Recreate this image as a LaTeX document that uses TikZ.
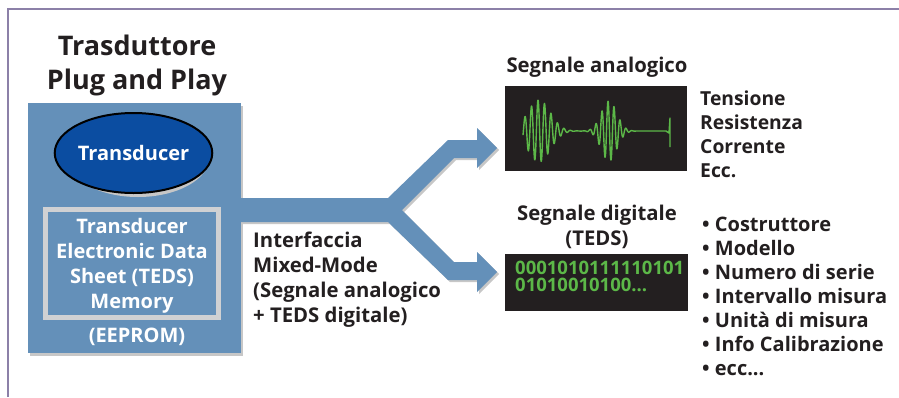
\documentclass[tikz,border=0pt]{standalone}
\usepackage{fontspec}
\setmainfont{Open Sans}
\usetikzlibrary{positioning,shapes.geometric}

\definecolor{framegray}{RGB}{140,128,168}
\definecolor{tedsblue}{RGB}{100,144,185}
\definecolor{coreblue}{RGB}{11,77,161}
\definecolor{memgray}{RGB}{208,209,211}
\definecolor{screenblack}{RGB}{35,31,32}
\definecolor{wavegreen}{RGB}{92,184,72}
\definecolor{inkblack}{RGB}{35,31,32}

\newcommand{\titlefont}{\fontsize{27}{34}\selectfont\bfseries}
\newcommand{\boxfont}{\fontsize{20}{25}\selectfont\bfseries}
\newcommand{\labelfont}{\fontsize{20.3}{25}\selectfont\bfseries}
\newcommand{\quantfont}{\fontsize{19.3}{24}\selectfont\bfseries}
\newcommand{\listfont}{\fontsize{20}{24}\selectfont\bfseries}
\newcommand{\digifont}{\fontsize{18.5}{17}\selectfont\bfseries}

\tikzset{
  label text/.style={text=inkblack, inner sep=0pt},
  screen/.style={fill=screenblack, inner sep=0pt, anchor=north west},
}

\begin{document}
\begin{tikzpicture}[x=1pt,y=-1pt]
\useasboundingbox (0,0) rectangle (899,397);
% frame
\draw[framegray, line width=2.5pt] (8,397) -- (8,9) -- (899,9);

% plug and play transducer
\node[label text, font=\titlefont, align=center, anchor=base] (title) at (137,89) {Trasduttore\\Plug and Play};
\fill[black!22] (30,106) rectangle (243,356);
\node[fill=tedsblue, inner sep=0pt, minimum width=213, minimum height=250, anchor=north west] (box) at (28,103) {};
\fill[black!22] (138,157) ellipse [x radius=71.5, y radius=40];
\node[ellipse, draw=black, line width=2pt, fill=coreblue, minimum width=143, minimum height=80, inner sep=0pt,
  text=white, font=\boxfont] (transducer) at (133.5,153) {Transducer};
\draw[memgray, line width=5pt] (45.5,209.5) rectangle (218.5,317.5);
\node[text=white, font=\boxfont, align=center, anchor=base, inner sep=0pt] (memory) at (132,308)
  {Transducer\\Electronic Data\\Sheet (TEDS)\\Memory};
\node[text=white, font=\boxfont, anchor=base, inner sep=0pt] (eeprom) at (137,342) {(EEPROM)};

% mixed-mode interface arrow
\fill[black!22, shift={(2,2)}] (241,198) -- (388,198) -- (448,140) -- (477,140) -- (477,128) -- (497,148)
  -- (477,168) -- (477,158) -- (454,158) -- (402,210) -- (454,262) -- (477,262) -- (477,252)
  -- (497,272) -- (477,292) -- (477,280) -- (448,280) -- (388,222) -- (241,222) -- cycle;
\fill[tedsblue] (241,198) -- (388,198) -- (448,140) -- (477,140) -- (477,128) -- (497,148)
  -- (477,168) -- (477,158) -- (454,158) -- (402,210) -- (454,262) -- (477,262) -- (477,252)
  -- (497,272) -- (477,292) -- (477,280) -- (448,280) -- (388,222) -- (241,222) -- cycle;
\node[label text, font=\labelfont, align=left, anchor=base west] (iface) at (253,322)
  {Interfaccia\\Mixed-Mode\\(Segnale analogico\\+ TEDS digitale)};

% analog signal
\node[label text, font=\labelfont, anchor=base] (analoglabel) at (597,72) {Segnale analogico};
\node[screen, minimum width=182, minimum height=85] (analog) at (505,86) {};
\draw[wavegreen, line width=1.4pt, line join=round]
  plot[domain=523:666, samples=700] (\x, {131 - 31*exp(-((\x-539)/16)^2)*sin(55.4*(\x-538)+90)
    - 30*exp(-((\x-609)/11)^2)*sin(60*(\x-608)+90)})
  -- (669,133) -- (670,118) -- (670,147);
\node[label text, font=\quantfont, align=left, anchor=base west] (quantities) at (700,177)
  {Tensione\\Resistenza\\Corrente\\Ecc.};

% digital signal
\node[label text, font=\labelfont, align=center, anchor=base] (digitallabel) at (597,245)
  {Segnale digitale\\(TEDS)};
\node[screen, minimum width=183, minimum height=57] (digital) at (505,254) {};
\node[text=wavegreen, font=\digifont, align=left, anchor=base west, inner sep=0pt] (bits) at (515,291)
  {0001010111110101\\01010010100...};
\node[label text, font=\listfont, align=left, anchor=base west] (tedsinfo) at (702,375)
  {\textbullet\ Costruttore\\\textbullet\ Modello\\\textbullet\ Numero di serie\\\textbullet\ Intervallo misura\\
   \textbullet\ Unità di misura\\\textbullet\ Info Calibrazione\\\textbullet\ ecc...};
\end{tikzpicture}
\end{document}
